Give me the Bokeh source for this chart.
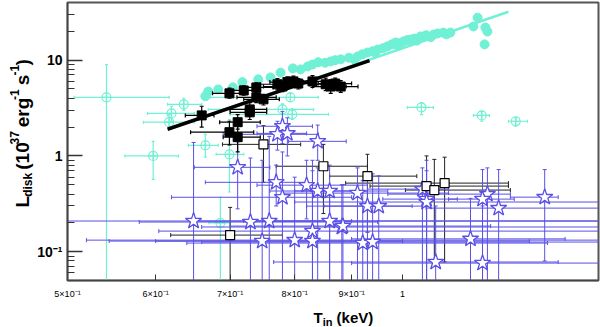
import numpy as np
from math import pi
from bokeh.plotting import figure
from bokeh.layouts import row, column
from bokeh.models import FixedTicker, CustomJSTickFormatter
from bokeh.core.properties import value
from bokeh.embed import file_html
from bokeh.resources import INLINE

# ---------------- data ----------------
x_tick_values = [0.5, 0.6, 0.7, 0.8, 0.9, 1.0]
x_tick_labels = ["5\u00d710\u207b\u00b9", "6\u00d710\u207b\u00b9", "7\u00d710\u207b\u00b9",
                 "8\u00d710\u207b\u00b9", "9\u00d710\u207b\u00b9", "1"]
y_tick_values = [0.1, 1, 10]
y_tick_labels = ["10\u207b\u00b9", "1", "10"]
y_minor_values = [0.06, 0.07, 0.08, 0.09, 0.2, 0.3, 0.4, 0.5, 0.6, 0.7, 0.8, 0.9,
                  2, 3, 4, 5, 6, 7, 8, 9, 20, 30]

# cyan filled circles (high state)
cyan_T = [0.665, 0.669, 0.683, 0.704, 0.718, 0.742, 0.761, 0.777, 0.797, 0.810, 0.822,
          0.830, 0.840, 0.852, 0.862, 0.870, 0.880, 0.895, 0.905, 0.911, 0.920, 0.930,
          0.940, 0.945, 0.950, 0.960, 0.969, 0.978, 0.986, 0.990, 0.995, 1.002, 1.010,
          1.017, 1.025, 1.030, 1.038, 1.050, 1.060, 1.066, 1.075, 1.088, 1.095, 1.104,
          1.158, 1.168, 1.187, 1.192, 1.185]
cyan_L = [4.2, 4.7, 4.95, 5.2, 5.9, 6.3, 6.6, 7.4, 8.2, 8.0, 8.6,
          9.0, 9.5, 9.4, 9.7, 10.0, 10.2, 10.6, 10.2, 10.9, 11.5, 12.0,
          12.4, 12.0, 12.9, 13.3, 13.9, 14.6, 15.3, 14.2, 15.0, 15.7, 16.2,
          16.4, 16.8, 16.0, 17.7, 18.2, 17.4, 18.5, 19.0, 19.4, 18.6, 19.4,
          22.5, 27.8, 21.9, 19.9, 14.6]

# cyan open circles with error bars
cyo_T = [0.542, 0.597, 0.617, 0.620, 0.636, 0.665, 0.686, 0.699, 0.793, 0.780, 0.796, 1.040, 1.178, 1.264]
cyo_L = [4.09, 1.00, 2.25, 2.78, 3.46, 1.29, 0.20, 1.04, 4.09, 3.06, 2.72, 3.21, 2.65, 2.30]
cyo_Tlo = [0.507, 0.563, 0.585, 0.590, 0.615, 0.642, 0.670, 0.680, 0.672, 0.669, 0.700, 1.010, 1.158, 1.245]
cyo_Thi = [0.617, 0.629, 0.650, 0.650, 0.660, 0.683, 0.700, 0.720, 0.840, 0.832, 0.858, 1.066, 1.197, 1.295]
cyo_Llo = [0.04, 0.57, 1.9, 2.3, 3.0, 0.97, 0.04, 0.42, 3.7, 2.7, 2.4, 2.7, 2.3, 2.04]
cyo_Lhi = [9.0, 1.42, 2.7, 3.3, 4.0, 1.68, 0.37, 2.4, 4.5, 3.5, 3.1, 3.6, 2.9, 2.5]

# black filled squares
bk_T = [0.660, 0.699, 0.720, 0.739, 0.739, 0.750, 0.729, 0.729, 0.711, 0.699, 0.711,
        0.772, 0.780, 0.788, 0.798, 0.806, 0.830, 0.853, 0.862, 0.880, 0.870]
bk_L = [2.65, 4.50, 4.83, 5.19, 4.09, 3.90, 3.06, 2.85, 2.25, 1.77, 1.57,
        5.60, 5.30, 5.90, 6.00, 5.70, 6.00, 5.60, 5.30, 5.30, 5.70]
bk_Tlo = [0.638, 0.675, 0.700, 0.715, 0.710, 0.720, 0.700, 0.700, 0.685, 0.645, 0.690,
          0.745, 0.750, 0.760, 0.770, 0.780, 0.800, 0.825, 0.830, 0.850, 0.840]
bk_Thi = [0.677, 0.725, 0.745, 0.765, 0.770, 0.775, 0.755, 0.755, 0.745, 0.735, 0.745,
          0.800, 0.810, 0.815, 0.830, 0.835, 0.860, 0.885, 0.890, 0.912, 0.900]
bk_Llo = [2.0, 4.0, 4.3, 4.6, 3.6, 3.4, 2.6, 2.4, 1.9, 1.3, 1.1,
          4.9, 4.7, 5.2, 5.3, 5.0, 5.2, 4.8, 4.5, 4.6, 5.0]
bk_Lhi = [3.3, 5.1, 5.4, 5.8, 4.6, 4.4, 3.6, 3.3, 2.7, 2.3, 2.1,
          6.4, 6.0, 6.7, 6.8, 6.4, 6.9, 6.5, 6.2, 6.1, 6.5]

# black open squares
bo_T = [0.750, 0.849, 0.930, 1.051, 1.068, 1.091, 0.700]
bo_L = [1.32, 0.78, 0.615, 0.484, 0.44, 0.52, 0.149]
bo_Tlo = [0.689, 0.770, 0.860, 0.935, 1.006, 0.889, 0.619]
bo_Thi = [0.810, 0.930, 1.030, 1.245, 1.250, 1.245, 0.780]
bo_Llo = [0.53, 0.25, 0.16, 0.04, 0.08, 0.078, 0.04]
bo_Lhi = [2.07, 1.32, 1.04, 1.00, 0.92, 0.97, 0.29]

# blue open stars
st_T = [0.780, 0.772, 0.788, 0.839, 0.711, 0.770, 0.780, 0.820, 0.839, 0.860,
        0.649, 0.730, 0.759, 0.748, 0.800, 0.830, 0.830, 0.860, 0.882, 0.911,
        0.930, 0.952, 0.884, 0.921, 0.940, 1.042, 1.051, 1.051, 1.071, 1.151,
        1.192, 1.180, 1.220, 1.342, 1.180]
st_L = [2.04, 1.68, 1.72, 1.42, 0.76, 0.53, 0.37, 0.495, 0.43, 0.43,
        0.209, 0.204, 0.209, 0.129, 0.132, 0.164, 0.129, 0.209, 0.181, 0.409,
        0.299, 0.299, 0.185, 0.123, 0.126, 0.45, 0.354, 0.33, 0.078, 0.136,
        0.399, 0.354, 0.285, 0.371, 0.076]
st_Tlo = [0.740, 0.690, 0.740, 0.790, 0.650, 0.665, 0.620, 0.740, 0.760, 0.800,
          0.480, 0.580, 0.650, 0.545, 0.520, 0.604, 0.600, 0.720, 0.660, 0.780,
          0.820, 0.850, 0.700, 0.640, 0.660, 0.930, 0.960, 0.800, 0.766, 0.900,
          0.970, 1.100, 1.050, 1.250, 0.900]
st_Thi = [0.830, 0.840, 0.820, 0.890, 0.760, 0.820, 0.900, 0.930, 0.930, 0.970,
          1.600, 0.950, 0.900, 1.000, 1.600, 1.600, 1.300, 1.600, 1.600, 1.100,
          1.050, 1.020, 1.200, 1.350, 1.600, 1.100, 1.120, 1.600, 1.380, 1.400,
          1.250, 1.260, 1.600, 1.380, 1.600]
st_Llo = [1.35, 1.15, 1.0, 0.9, 0.28, 0.30, 0.04, 0.22, 0.04, 0.04,
          0.04, 0.04, 0.04, 0.04, 0.04, 0.04, 0.04, 0.04, 0.04, 0.04,
          0.04, 0.04, 0.04, 0.04, 0.04, 0.04, 0.04, 0.04, 0.04, 0.04,
          0.04, 0.04, 0.04, 0.08, 0.04]
st_Lhi = [2.9, 2.3, 2.5, 2.1, 1.4, 0.80, 1.1, 0.9, 0.75, 0.8,
          1.38, 0.95, 1.6, 0.9, 0.6, 0.9, 0.7, 0.45, 0.5, 0.75,
          0.62, 0.62, 0.5, 0.55, 0.65, 0.75, 0.9, 0.7, 0.3, 0.36,
          0.75, 0.72, 0.72, 0.72, 0.3]

# power-law fits (L ~ T^4)
fit_black_T = [0.615, 0.934]
fit_black_L = [1.9, 9.9]
fit_cyan_T = [0.62, 1.245]
fit_cyan_L = [1.96, 32.0]

# axis-title pieces: (text, font px, cross-offset px, leading space?)
y_title_parts = [("L", 19, 0, False), ("disk", 12, 5, False), ("(10", 19, 0, True),
                 ("37", 12, -8, False), ("erg", 19, 0, True), ("-1", 12, -8, False),
                 ("s", 19, 0, True), ("-1", 12, -8, False), (")", 19, 0, False)]
x_title_parts = [("T", 15, 0, False), ("in", 11, 4, False), ("(keV)", 15, 0, True)]
# advance widths (em) of Liberation Sans Bold
adv = {"L": 0.611, "disk": 2.001, "(10": 1.445, "37": 1.112, "erg": 1.556,
       "-1": 0.889, "s": 0.556, ")": 0.333, "T": 0.611, "in": 0.889, "(keV)": 2.334}
SPACE = 0.278

CYAN = "#70f0d4"
BLUE = "#5a50e6"
FONT = "Liberation Sans"

W, H = 600, 327
LEFT_W = 34          # strip holding the y title
MAIN_H = 301         # main plot height; strip below holds the x title
FRAME_LEFT, FRAME_TOP, FRAME_BOTTOM, FRAME_RIGHT = 67, 2, 281, 598

# ---------------- main figure ----------------
p = figure(width=W - LEFT_W, height=MAIN_H, x_axis_type="log", y_axis_type="log",
           x_range=(0.5, 1.5), y_range=(0.05, 40),
           output_backend="svg", toolbar_location=None,
           min_border_left=FRAME_LEFT - LEFT_W, min_border_right=W - FRAME_RIGHT,
           min_border_top=FRAME_TOP, min_border_bottom=MAIN_H - FRAME_BOTTOM)
p.xgrid.visible = False
p.ygrid.visible = False
p.outline_line_color = "#555555"
p.outline_line_width = 2

fmt_code = """let best = 0; let d = 1e9;
for (let i = 0; i < vals.length; i++) { const e = Math.abs(Math.log(vals[i]) - Math.log(tick)); if (e < d) { d = e; best = i; } }
return labels[best];"""
p.xaxis.ticker = FixedTicker(ticks=x_tick_values, minor_ticks=[])
p.xaxis.formatter = CustomJSTickFormatter(args=dict(labels=x_tick_labels, vals=x_tick_values), code=fmt_code)
p.yaxis.ticker = FixedTicker(ticks=y_tick_values, minor_ticks=y_minor_values)
p.yaxis.formatter = CustomJSTickFormatter(args=dict(labels=y_tick_labels, vals=y_tick_values), code=fmt_code)

for ax in (p.xaxis[0], p.yaxis[0]):
    ax.axis_line_color = "#444444"
    ax.axis_line_width = 1.5
    ax.major_tick_line_color = "#333333"
    ax.minor_tick_line_color = "#333333"
    ax.major_tick_out = 0
    ax.minor_tick_out = 0
    ax.major_label_text_font = FONT
    ax.major_label_text_color = "black"

p.xaxis.major_tick_in = 6
p.xaxis.major_label_text_font_size = "9px"
p.xaxis.major_label_standoff = 8
p.yaxis.major_tick_in = 15
p.yaxis.minor_tick_in = 7
p.yaxis.major_tick_line_width = 1.5
p.yaxis.major_label_text_font_size = "14px"
p.yaxis.major_label_text_font_style = "bold"
p.yaxis.major_label_standoff = 5


def errbars(T, L, Tlo, Thi, Llo, Lhi, color, width=1.0, cap=4):
    T, L = np.array(T), np.array(L)
    Tlo, Thi, Llo, Lhi = map(np.array, (Tlo, Thi, Llo, Lhi))
    p.segment(x0=Tlo, y0=L, x1=Thi, y1=L, line_color=color, line_width=width)
    p.segment(x0=T, y0=Llo, x1=T, y1=Lhi, line_color=color, line_width=width)
    p.scatter(np.concatenate([Tlo, Thi]), np.concatenate([L, L]), marker="dash", size=cap,
              angle=pi / 2, line_color=color, line_width=width)
    p.scatter(np.concatenate([T, T]), np.concatenate([Llo, Lhi]), marker="dash", size=cap,
              line_color=color, line_width=width)


# cyan open circles
errbars(cyo_T, cyo_L, cyo_Tlo, cyo_Thi, cyo_Llo, cyo_Lhi, CYAN, width=1.2, cap=3)
p.scatter(cyo_T, cyo_L, marker="circle_cross", size=9, fill_color=None,
          line_color=CYAN, line_width=1.2)

# black open squares (errors) and blue stars
errbars(bo_T, bo_L, bo_Tlo, bo_Thi, bo_Llo, bo_Lhi, "#222222", width=1.0, cap=4)
errbars(st_T, st_L, st_Tlo, st_Thi, st_Llo, st_Lhi, BLUE, width=1.0, cap=4)
p.scatter(st_T, st_L, marker="star", size=17, fill_color="white",
          line_color=BLUE, line_width=1.3)
p.scatter(bo_T, bo_L, marker="square", size=9, fill_color="white",
          line_color="black", line_width=1.2)

# cyan filled + cyan fit
p.line(fit_cyan_T, fit_cyan_L, line_color=CYAN, line_width=2.5)
p.scatter(cyan_T, cyan_L, marker="circle", size=9, fill_color=CYAN, line_color=CYAN)

# black filled squares + black fit
errbars(bk_T, bk_L, bk_Tlo, bk_Thi, bk_Llo, bk_Lhi, "black", width=1.2, cap=4)
p.scatter(bk_T, bk_L, marker="square", size=9, fill_color="black", line_color="black")
p.line(fit_black_T, fit_black_L, line_color="black", line_width=3.5)


# ---------------- title strips (pixel coordinates of the page) ----------------
def strip(w, h, x0, y0):
    f = figure(width=w, height=h, x_range=(x0, x0 + w), y_range=(y0 + h, y0),
               output_backend="svg", toolbar_location=None,
               x_axis_location=None, y_axis_location=None,
               min_border=0, min_border_left=0, min_border_right=0,
               min_border_top=0, min_border_bottom=0)
    f.xgrid.visible = False
    f.ygrid.visible = False
    f.outline_line_color = None
    return f


ylab = strip(LEFT_W, MAIN_H, 0, 0)
pos = 222.0
for t, s, off, sp in y_title_parts:
    if sp:
        pos -= SPACE * s
    ylab.text(x=[22 + off], y=[pos], text=[t], angle=pi / 2,
              text_font=value(FONT), text_font_size=f"{s}px", text_font_style="bold",
              text_color="black", text_align="left", text_baseline="alphabetic")
    pos -= adv[t] * s

xlab = strip(W, H - MAIN_H, 0, MAIN_H)
pos = 313.0
for t, s, off, sp in x_title_parts:
    if sp:
        pos += SPACE * s
    xlab.text(x=[pos], y=[317 + off], text=[t],
              text_font=value(FONT), text_font_size=f"{s}px", text_font_style="bold",
              text_color="black", text_align="left", text_baseline="alphabetic")
    pos += adv[t] * s

layout = column(row(ylab, p, spacing=0), xlab, spacing=0)
open("out.html", "w").write(file_html(layout, INLINE))
